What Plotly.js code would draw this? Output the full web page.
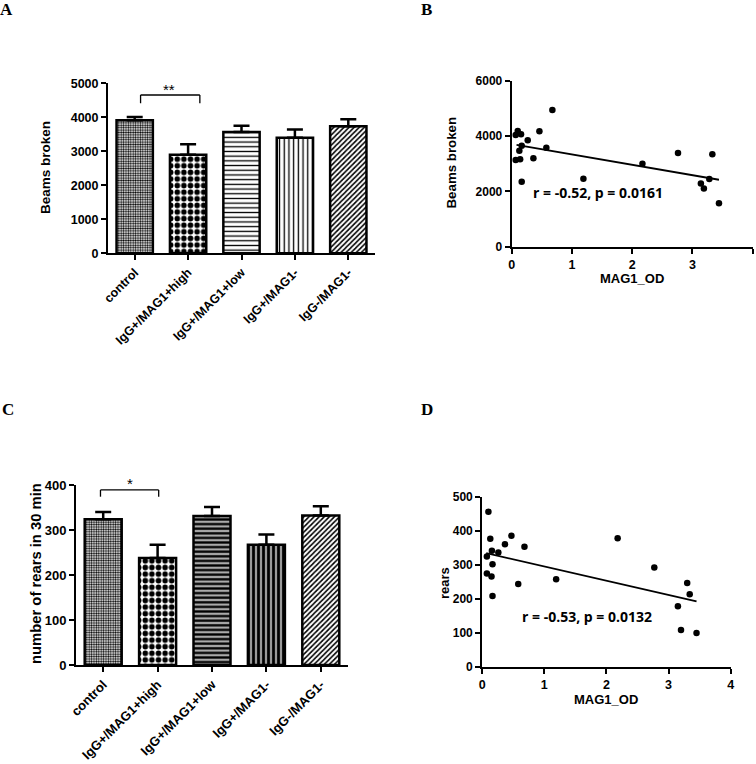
<!DOCTYPE html>
<html>
<head>
<meta charset="utf-8">
<script src="https://cdn.plot.ly/plotly-3.0.1.min.js"></script>
<style>html,body{margin:0;padding:0;background:#fff;}#chart{width:756px;height:764px;}</style>
</head>
<body>
<div id="chart"></div>
<script>
// ---------- data ----------
const groups = ["control", "IgG+/MAG1+high", "IgG+/MAG1+low", "IgG+/MAG1-", "IgG-/MAG1-"];
// Panel A: beams broken (mean, SEM)
const beamsMean = [3910, 2900, 3570, 3400, 3740];
const beamsErr  = [100, 310, 180, 240, 200];
// Panel C: number of rears in 30 min (mean, SEM)
const rearsMean = [324, 238, 331, 267, 332];
const rearsErr  = [16, 29, 20, 23, 21];
// Panel B: MAG1_OD vs beams broken
const odB    = [0.066, 0.14, 0.066, 0.10, 0.155, 0.127, 0.166, 0.166, 0.266, 0.36, 0.46, 0.575, 0.675, 1.19, 2.17, 2.76, 3.14, 3.19, 3.28, 3.33, 3.44];
const beamsB = [3130, 3160, 4040, 4180, 4060, 3470, 3650, 2350, 3850, 3200, 4170, 3580, 4940, 2460, 3000, 3390, 2280, 2100, 2450, 3340, 1570];
const fitBx  = [0.08, 3.44];
const fitBy  = [3680, 2420];
// Panel D: MAG1_OD vs rears
const odD    = [0.10, 0.13, 0.156, 0.26, 0.075, 0.166, 0.075, 0.15, 0.166, 0.366, 0.47, 0.58, 0.68, 1.19, 2.18, 2.77, 3.15, 3.20, 3.30, 3.34, 3.45];
const rearsD = [456, 376, 341, 336, 324, 301, 274, 265, 208, 360, 385, 243, 353, 257, 378, 292, 178, 108, 246, 213, 99];
const fitDx  = [0.065, 3.45];
const fitDy  = [334, 192];

// ---------- styles ----------
const SANS = "Liberation Sans, Arial, sans-serif";
const bold = (size) => ({family: SANS, size: size, color: "#000", weight: 700});
const zeros = (a) => a.map(() => 0);
const idx = groups.map((g, i) => i);
const boldLabels = groups.map((g) => "<b>" + g + "</b>");

const patA = {
  fillmode: "replace",
  shape:    [".", ".", "-", "|", "/"],
  size:     [2.4, 6.6, 4.7, 4.7, 3.6],
  solidity: [0.5, 0.55, 0.28, 0.28, 0.45],
  fgcolor:  "#000",
  bgcolor:  "#fff"
};
const patC = {
  fillmode: "replace",
  shape:    [".", ".", "-", "|", "/"],
  size:     [2.4, 6.6, 4.6, 5.0, 3.6],
  solidity: [0.5, 0.55, 0.5, 0.55, 0.45],
  fgcolor:  "#000",
  bgcolor:  ["#fff", "#fff", "#aaa", "#999", "#fff"]
};

const data = [
  {
    type: "bar", x: idx, y: beamsMean, xaxis: "x", yaxis: "y",
    width: 0.68,
    marker: {color: "#fff", line: {color: "#000", width: 2.5}, pattern: patA},
    error_y: {type: "data", symmetric: false, array: beamsErr, arrayminus: zeros(beamsErr),
              color: "#000", thickness: 2.5, width: 8}
  },
  {
    type: "scatter", mode: "markers", x: odB, y: beamsB, xaxis: "x2", yaxis: "y2",
    marker: {color: "#000", size: 6.5}, cliponaxis: false
  },
  {
    type: "scatter", mode: "lines", x: fitBx, y: fitBy, xaxis: "x2", yaxis: "y2",
    line: {color: "#000", width: 1.8}
  },
  {
    type: "bar", x: idx, y: rearsMean, xaxis: "x3", yaxis: "y3",
    width: 0.68,
    marker: {color: "#fff", line: {color: "#000", width: 2.5}, pattern: patC},
    error_y: {type: "data", symmetric: false, array: rearsErr, arrayminus: zeros(rearsErr),
              color: "#000", thickness: 2.5, width: 8}
  },
  {
    type: "scatter", mode: "markers", x: odD, y: rearsD, xaxis: "x4", yaxis: "y4",
    marker: {color: "#000", size: 6.5}, cliponaxis: false
  },
  {
    type: "scatter", mode: "lines", x: fitDx, y: fitDy, xaxis: "x4", yaxis: "y4",
    line: {color: "#000", width: 1.8}
  }
];

const W = 756, H = 764;
const dx = (a, b) => [a / W, b / W];
const dy = (top, bottom) => [1 - bottom / H, 1 - top / H];

const axBase = {
  showline: true, linecolor: "#000", linewidth: 2,
  ticks: "outside", ticklen: 5, tickwidth: 2, tickcolor: "#000",
  showgrid: false, zeroline: false, fixedrange: true,
  tickprefix: "<b>", ticksuffix: "</b>"
};
const catAx = {tickmode: "array", tickvals: idx, ticktext: boldLabels, tickprefix: "", ticksuffix: ""};

const layout = {
  width: W, height: H,
  margin: {l: 0, r: 0, t: 0, b: 0},
  paper_bgcolor: "#fff", plot_bgcolor: "rgba(0,0,0,0)",
  showlegend: false,
  xaxis:  Object.assign({}, axBase, catAx, {domain: dx(108, 375), anchor: "y", range: [-0.5, 4.5],
           tickangle: -45, tickfont: bold(12.5)}),
  yaxis:  Object.assign({}, axBase, {domain: dy(83.3, 253.3), anchor: "x", range: [0, 5000],
           dtick: 1000, tickfont: bold(12.5)}),
  xaxis2: Object.assign({}, axBase, {domain: dx(511.7, 752.7), anchor: "y2", range: [0, 4],
           dtick: 1, tickfont: bold(12.5)}),
  yaxis2: Object.assign({}, axBase, {domain: dy(80.7, 246.7), anchor: "x2", range: [0, 6000],
           dtick: 2000, tickfont: bold(12)}),
  xaxis3: Object.assign({}, axBase, catAx, {domain: dx(76, 348), anchor: "y3", range: [-0.5, 4.5],
           tickangle: -45, tickfont: bold(13)}),
  yaxis3: Object.assign({}, axBase, {domain: dy(485, 665), anchor: "x3", range: [0, 400],
           dtick: 100, tickfont: bold(13)}),
  xaxis4: Object.assign({}, axBase, {domain: dx(482.2, 730.7), anchor: "y4", range: [0, 4],
           dtick: 1, tickfont: bold(12.5)}),
  yaxis4: Object.assign({}, axBase, {domain: dy(496.7, 666.7), anchor: "x4", range: [0, 500],
           dtick: 100, tickfont: bold(12)}),
  shapes: [
    // significance bracket A
    {type: "line", xref: "x", yref: "y", x0: 0.11, x1: 1.22, y0: 4656, y1: 4656, line: {color: "#000", width: 1.3}},
    {type: "line", xref: "x", yref: "y", x0: 0.11, x1: 0.11, y0: 4656, y1: 4412, line: {color: "#000", width: 1.3}},
    {type: "line", xref: "x", yref: "y", x0: 1.22, x1: 1.22, y0: 4656, y1: 4412, line: {color: "#000", width: 1.3}},
    // significance bracket C
    {type: "line", xref: "x3", yref: "y3", x0: -0.05, x1: 1.02, y0: 389, y1: 389, line: {color: "#000", width: 1.3}},
    {type: "line", xref: "x3", yref: "y3", x0: -0.05, x1: -0.05, y0: 389, y1: 374, line: {color: "#000", width: 1.3}},
    {type: "line", xref: "x3", yref: "y3", x0: 1.02, x1: 1.02, y0: 389, y1: 374, line: {color: "#000", width: 1.3}}
  ],
  annotations: [
    // panel letters
    {text: "<b>A</b>", xref: "paper", yref: "paper", x: 6.5 / W, y: 1 - 9 / H, showarrow: false, xanchor: "center", yanchor: "middle",
     font: {family: "Liberation Serif, Times New Roman, serif", size: 17, color: "#000", weight: 700}},
    {text: "<b>B</b>", xref: "paper", yref: "paper", x: 426 / W, y: 1 - 9 / H, showarrow: false, xanchor: "center", yanchor: "middle",
     font: {family: "Liberation Serif, Times New Roman, serif", size: 17, color: "#000", weight: 700}},
    {text: "<b>C</b>", xref: "paper", yref: "paper", x: 7.5 / W, y: 1 - 409 / H, showarrow: false, xanchor: "center", yanchor: "middle",
     font: {family: "Liberation Serif, Times New Roman, serif", size: 17, color: "#000", weight: 700}},
    {text: "<b>D</b>", xref: "paper", yref: "paper", x: 426.5 / W, y: 1 - 409 / H, showarrow: false, xanchor: "center", yanchor: "middle",
     font: {family: "Liberation Serif, Times New Roman, serif", size: 17, color: "#000", weight: 700}},
    // axis titles
    {text: "<b>Beams broken</b>", xref: "paper", yref: "paper", x: 45 / W, y: 1 - 168 / H, textangle: -90, showarrow: false,
     xanchor: "center", yanchor: "middle", font: bold(13.5)},
    {text: "<b>Beams broken</b>", xref: "paper", yref: "paper", x: 451 / W, y: 1 - 162.5 / H, textangle: -90, showarrow: false,
     xanchor: "center", yanchor: "middle", font: bold(13.3)},
    {text: "<b>MAG1_OD</b>", xref: "paper", yref: "paper", x: 632.3 / W, y: 1 - 278.5 / H, showarrow: false,
     xanchor: "center", yanchor: "middle", font: bold(13)},
    {text: "<b>number of rears in 30 min</b>", xref: "paper", yref: "paper", x: 36 / W, y: 1 - 574 / H, textangle: -90, showarrow: false,
     xanchor: "center", yanchor: "middle", font: bold(14.8)},
    {text: "<b>rears</b>", xref: "paper", yref: "paper", x: 444.5 / W, y: 1 - 582.5 / H, textangle: -90, showarrow: false,
     xanchor: "center", yanchor: "middle", font: bold(13)},
    {text: "<b>MAG1_OD</b>", xref: "paper", yref: "paper", x: 606.3 / W, y: 1 - 699 / H, showarrow: false,
     xanchor: "center", yanchor: "middle", font: bold(13)},
    // correlation texts
    {text: "<b>r = -0.52, p = 0.0161</b>", xref: "paper", yref: "paper", x: 598 / W, y: 1 - 193 / H, showarrow: false,
     xanchor: "center", yanchor: "middle", font: {family: "Open Sans, sans-serif", size: 14, color: "#000", weight: 700}},
    {text: "<b>r = -0.53, p = 0.0132</b>", xref: "paper", yref: "paper", x: 586.7 / W, y: 1 - 616 / H, showarrow: false,
     xanchor: "center", yanchor: "middle", font: {family: "Open Sans, sans-serif", size: 14, color: "#000", weight: 700}},
    // significance stars
    {text: "**", xref: "paper", yref: "paper", x: 169 / W, y: 1 - 90 / H, showarrow: false, xanchor: "center", yanchor: "middle",
     font: {family: SANS, size: 15, color: "#000"}},
    {text: "*", xref: "paper", yref: "paper", x: 130 / W, y: 1 - 484 / H, showarrow: false, xanchor: "center", yanchor: "middle",
     font: {family: SANS, size: 15, color: "#000"}}
  ]
};

Plotly.newPlot("chart", data, layout, {staticPlot: true, displayModeBar: false});
</script>
</body>
</html>
